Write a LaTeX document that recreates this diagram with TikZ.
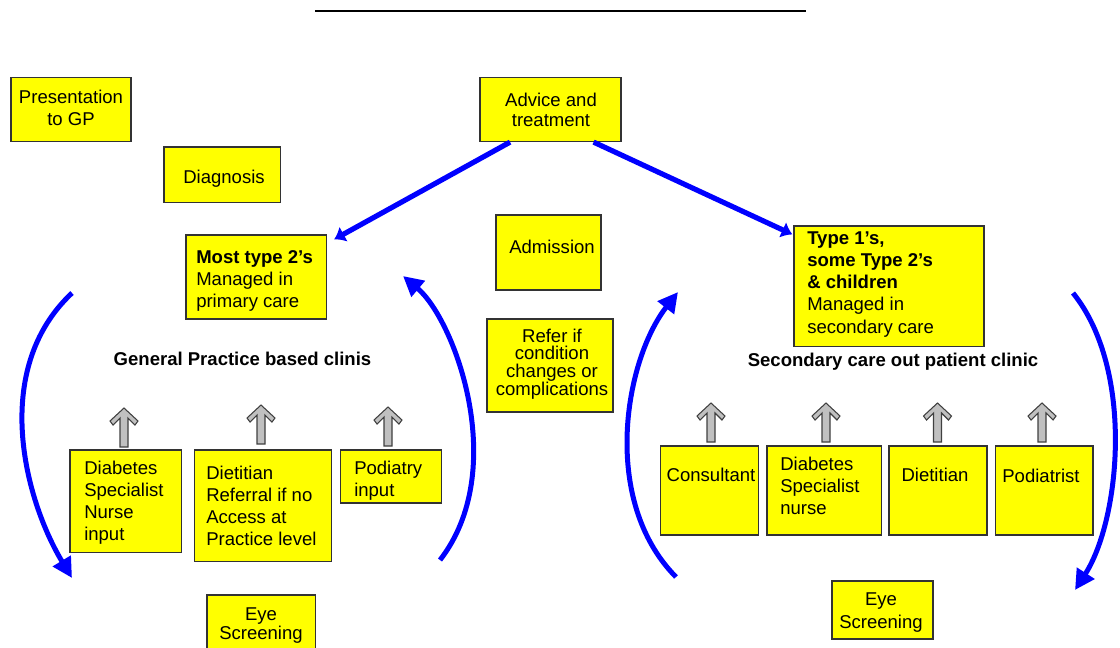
\documentclass[tikz,border=0pt]{standalone}
\usepackage{fontspec}
\setmainfont{Liberation Sans}
\usetikzlibrary{arrows.meta,fit}
\definecolor{boxyellow}{HTML}{FFFF00}
\definecolor{boxline}{HTML}{333333}
\definecolor{arrgray}{HTML}{C0C0C0}
\definecolor{arrline}{HTML}{404040}
\definecolor{flowblue}{HTML}{0000FF}
\tikzset{
  ybox/.style={draw=boxline, fill=boxyellow, line width=0.9pt, inner sep=0pt},
  txt/.style={inner sep=0pt, font=\fontsize{13.9pt}{16.5pt}\selectfont},
  bigarc/.style={draw=flowblue, line width=3.75pt, -{Triangle[length=15pt,width=15pt]}},
  flowarr/.style={draw=flowblue, line width=3.9pt, -{Latex[length=8pt,width=13pt]}},
  uparr/.pic={
    \draw[fill=arrgray, draw=arrline, line width=0.8pt, line join=miter]
      (0,0) -- (14,13) -- (11,17) -- (4,10) -- (4,39) -- (-4,39) -- (-4,10)
      -- (-11,17) -- (-14,13) -- cycle;
  }
}
\begin{document}
\begin{tikzpicture}[x=0.75pt,y=-0.75pt]
\useasboundingbox (0,0) rectangle (1120,647);

% top rule
\coordinate (ruleL) at (315,11);
\coordinate (ruleR) at (806,11);
\draw[line width=1.3pt] (ruleL) -- (ruleR);

% boxes
\node[ybox, fit={(11,77.5) (131,141.5)}] (gp) {};
\node[ybox, fit={(164,147) (280.5,202.5)}] (diag) {};
\node[ybox, fit={(186,235) (326.5,319)}] (t2) {};
\node[ybox, fit={(480,77.5) (621,141.5)}] (adv) {};
\node[ybox, fit={(496,215) (601,290)}] (adm) {};
\node[ybox, fit={(794,226) (984,346.5)}] (t1) {};
\node[ybox, fit={(487,319) (613,412)}] (refer) {};
\node[ybox, fit={(70,450) (181.5,552.5)}] (dsnL) {};
\node[ybox, fit={(194.5,450) (331.5,561.5)}] (dietL) {};
\node[ybox, fit={(340.5,450) (441.5,503)}] (podL) {};
\node[ybox, fit={(207,595) (315.5,660)}] (eyeL) {};
\node[ybox, fit={(660.5,446) (758.5,535)}] (cons) {};
\node[ybox, fit={(767,446) (881.5,535)}] (dsnR) {};
\node[ybox, fit={(889,446) (987,535)}] (dietR) {};
\node[ybox, fit={(995.5,446) (1093,535)}] (podR) {};
\node[ybox, fit={(832,581) (933,639)}] (eyeR) {};

% texts
\node[txt, anchor=north, align=center] (gpT) at (71,90) {Presentation\\to GP};
\node[txt, anchor=base] (diagT) at (224,183.5) {Diagnosis};
\node[txt, anchor=north west, align=left] (t2T) at (196,250) {\textbf{Most type 2’s}\\Managed in\\primary care};
\node[txt, anchor=north, align=center, font=\fontsize{13.9pt}{15pt}\selectfont] (advT) at (551,93) {Advice and\\treatment};
\node[txt, anchor=base] (admT) at (552,253) {Admission};
\node[txt, anchor=north west, align=left, font=\fontsize{13.9pt}{16.7pt}\selectfont] (t1T) at (807,231) {\textbf{Type 1’s,}\\\textbf{some Type 2’s}\\\textbf{\& children}\\Managed in\\secondary care};
\node[txt, anchor=north, align=center, font=\fontsize{13.9pt}{12.9pt}\selectfont] (referT) at (552,329) {Refer if\\condition\\changes or\\complications};
\node[txt, anchor=base, font=\bfseries\fontsize{13.9pt}{16.5pt}\selectfont] (gpclin) at (242.5,365) {General Practice based clinis};
\node[txt, anchor=base, font=\bfseries\fontsize{13.9pt}{16.5pt}\selectfont] (secclin) at (893,366.5) {Secondary care out patient clinic};
\node[txt, anchor=north west, align=left] (dsnLT) at (84,460.5) {Diabetes\\Specialist\\Nurse\\input};
\node[txt, anchor=north west, align=left] (dietLT) at (206,465.5) {Dietitian\\Referral if no\\Access at\\Practice level};
\node[txt, anchor=north west, align=left] (podLT) at (354,460.5) {Podiatry\\input};
\node[txt, anchor=north, align=center, font=\fontsize{13.9pt}{14.5pt}\selectfont] (eyeLT) at (261,607) {Eye\\Screening};
\node[txt, anchor=base] (consT) at (711,481) {Consultant};
\node[txt, anchor=north west, align=left] (dsnRT) at (780,457) {Diabetes\\Specialist\\nurse};
\node[txt, anchor=base] (dietRT) at (935,481) {Dietitian};
\node[txt, anchor=base] (podRT) at (1041,482) {Podiatrist};
\node[txt, anchor=north, align=center, font=\fontsize{13.9pt}{17.5pt}\selectfont] (eyeRT) at (881,592) {Eye\\Screening};

% grey up arrows
\pic at (124,408) {uparr};
\pic at (261,405) {uparr};
\pic at (388,407) {uparr};
\pic at (711,403) {uparr};
\pic at (826,403) {uparr};
\pic at (937.5,403) {uparr};
\pic at (1042,403) {uparr};

% straight blue arrows from Advice and treatment
\draw[flowarr] ([xshift=23]adv.south west) -- ([shift={(7,5)}]t2.north east);
\draw[flowarr] ([xshift=-21]adv.south east) -- ([shift={(-1,9)}]t1.north west);

% circular arcs
\coordinate (aLs) at (72,293);
\coordinate (aLe) at (72,578);
\draw[bigarc] (aLs) .. controls (-10,370) and (25,500) .. (aLe);
\coordinate (aIs) at (440,560);
\coordinate (aIe) at (403,276);
\draw[bigarc] (aIs) .. controls (510,470) and (455,320) .. (aIe);
\coordinate (bLs) at (676,577);
\coordinate (bLe) at (678,292);
\draw[bigarc] (bLs) .. controls (600,500) and (625,360) .. (bLe);
\coordinate (bRs) at (1073,293);
\coordinate (bRe) at (1075,590);
\draw[bigarc] (bRs) .. controls (1135,370) and (1120,520) .. (bRe);
\end{tikzpicture}
\end{document}
